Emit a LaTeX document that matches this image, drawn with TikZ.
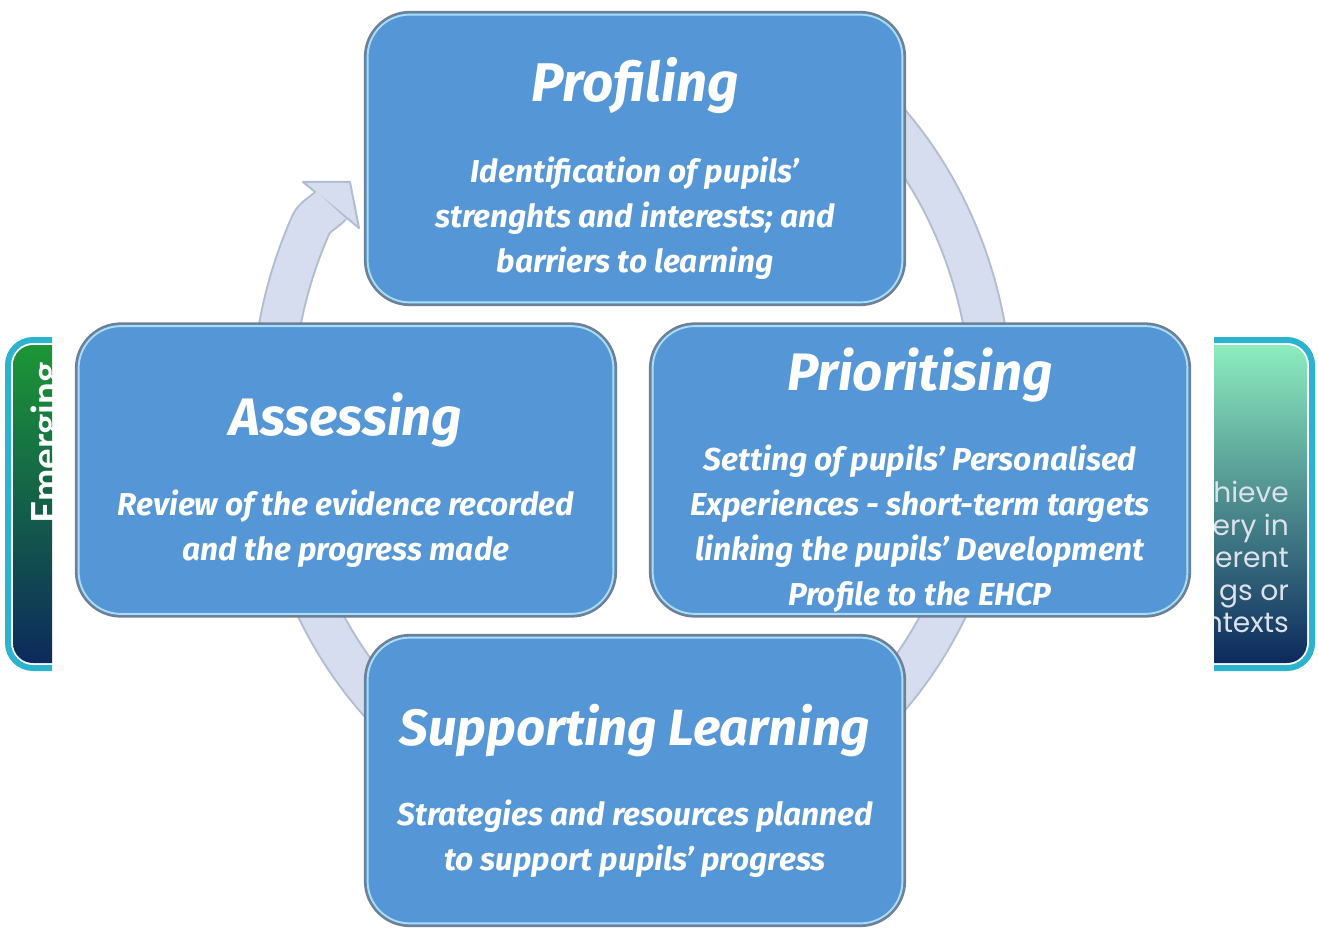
\documentclass[tikz,border=0pt]{standalone}
\usepackage{fontspec}
\setmainfont{Fira Sans}
\newfontfamily\sidefont{Poppins}
\newfontfamily\tagfont{Lato}
\usetikzlibrary{arrows.meta,positioning,calc}
\definecolor{cyBox}{HTML}{5596D6}
\definecolor{cyEdge}{HTML}{6F7F96}
\definecolor{cyHi}{HTML}{A9DCF5}
\definecolor{cyBand}{HTML}{D6DDEE}
\definecolor{cyBandEdge}{HTML}{B3BDD2}
\definecolor{cyRim}{HTML}{2BB3CF}
\definecolor{cyGreen}{HTML}{1C9636}
\definecolor{cyTeal}{HTML}{17684F}
\definecolor{cyNavy}{HTML}{0C2A5C}
\definecolor{cyMint}{HTML}{8DEDBF}
\definecolor{cySea}{HTML}{4B9CA0}
\definecolor{cyText}{HTML}{DDE2EA}
\tikzset{
  stage/.style={
    draw=cyEdge, line width=1.3pt, fill=cyBox, rounded corners=9mm,
    minimum width=108mm, minimum height=58.6mm,
    path picture={\draw[cyHi, line width=1.1pt, rounded corners=8.4mm]
      ([shift={(1.5pt,1.5pt)}]path picture bounding box.south west) rectangle
      ([shift={(-1.5pt,-1.5pt)}]path picture bounding box.north east);}
  },
  stagetext/.style={
    text=white, align=center,
    font=\fontsize{18pt}{25.6pt}\selectfont\bfseries\itshape
  },
  bandedge/.style={draw=cyBandEdge, line width=8.6mm},
  bandfill/.style={draw=cyBand, line width=7.8mm},
  bandhead/.style={fill=cyBand, draw=cyBandEdge, line width=0.4mm, line join=round},
  panel/.style={draw=cyRim, line width=1.2mm, rounded corners=5mm},
  paneltext/.style={text=cyText, align=right,
    font=\sidefont\fontsize{16pt}{18.5pt}\selectfont}
}

\begin{document}
\begin{tikzpicture}[x=0.2mm, y=-0.2mm]
  \useasboundingbox (0,0) rectangle (1318,928);
  \fill[white] (0,0) rectangle (1318,928);

  % cycle arrow behind the boxes
  \coordinate (hub) at (632,410);
  \coordinate (base) at (331,205);
  \coordinate (tip) at (350,182);
  \coordinate (barbl) at (303,182);
  \coordinate (barbr) at (359,228);
  \draw[bandedge] ([shift={(-60:360 and 410)}]hub)
    arc[start angle=-60, end angle=207, x radius=360, y radius=410]
    .. controls (314.3,216.7) and (326,211.2) .. (base);
  \filldraw[bandhead] (tip) -- (barbl) -- (barbr) -- cycle;
  \draw[bandfill] ([shift={(-60:360 and 410)}]hub)
    arc[start angle=-60, end angle=207, x radius=360, y radius=410]
    .. controls (314.3,216.7) and (326,211.2) .. (base);

  % side panels, cut off
  \begin{scope}
    \clip (0,320) rectangle (52,690);
    \shade[top color=cyGreen, middle color=cyTeal, bottom color=cyNavy,
      rounded corners=4mm] (13,345) rectangle (200,663);
    \draw[panel] (8,340) rectangle (205,668);
    \node[rotate=90, anchor=base, text=white,
      font=\tagfont\bfseries\fontsize{22pt}{22pt}\selectfont] (emerg) at (59,443) {Emerging};
  \end{scope}
  \begin{scope}
    \clip (1214,320) rectangle (1318,690);
    \shade[top color=cyMint, middle color=cySea, bottom color=cyNavy,
      rounded corners=4mm] (1120,345) rectangle (1307,663);
    \draw[panel] (1115,340) rectangle (1312,668);
    \node[paneltext, anchor=east] (achieve) at (1295,557)
      {hieve\\ery in\\erent\\gs or\\ntexts};
  \end{scope}

  % the four stages
  \node[stage] (prof) at (635,158.5) {};
  \node[stage] (assess) at (346,470) {};
  \node[stage] (prior) at (920,470) {};
  \node[stage, minimum height=58.2mm] (supp) at (635,780.5) {};

  \node[stagetext] (proftxt) at ([yshift=-2mm]prof.center)
    {{\fontsize{31pt}{31pt}\selectfont Profiling}\\[20pt]
     Identification of pupils'\\strenghts and interests; and\\barriers to learning};
  \node[stagetext] (assesstxt) at ([yshift=-2mm]assess.center)
    {{\fontsize{30pt}{30pt}\selectfont Assessing}\\[20pt]
     Review of the evidence recorded\\and the progress made};
  \node[stagetext] (priortxt) at ([yshift=-2mm]prior.center)
    {{\fontsize{30pt}{30pt}\selectfont Prioritising}\\[20pt]
     Setting of pupils' Personalised\\Experiences - short-term targets\\linking the pupils' Development\\Profile to the EHCP};
  \node[stagetext] (supptxt) at ([yshift=-2mm]supp.center)
    {{\fontsize{29pt}{29pt}\selectfont Supporting Learning}\\[20pt]
     Strategies and resources planned\\to support pupils' progress};
\end{tikzpicture}
\end{document}
